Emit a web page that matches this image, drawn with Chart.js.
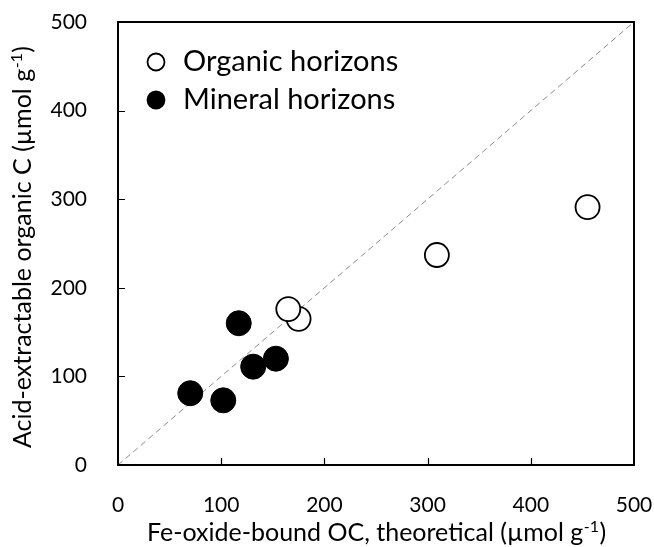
<!DOCTYPE html>
<html><head><meta charset="utf-8">
<script src="https://cdn.jsdelivr.net/npm/chart.js@4"></script>
<style>html,body{margin:0;padding:0;background:#fff}#wrap{width:654px;height:547px}</style>
</head><body><div id="wrap"><canvas id="c" width="654" height="547"></canvas></div>
<script>
// ---- data ----
const seriesNames = ["Organic horizons", "Mineral horizons"];
const organicX = [455, 309, 175, 165];
const organicY = [291, 237, 165, 176];
const mineralX = [70, 102, 117, 131, 153];
const mineralY = [81, 73, 160, 111, 120];
const oneToOneLine = [0, 500];
const axisMin = 0, axisMax = 500, tickStep = 100;
const xTitleParts = ["Fe-oxide-bound OC, theoretical (µmol g", "-1", ")"];
const yTitleParts = ["Acid-extractable organic C (µmol g", "-1", ")"];

const FONT = "Lato";
const TICK_SIZE = 21, TITLE_SIZE = 25, LEGEND_SIZE = 29;

function pts(xs, ys) { return xs.map((x, i) => ({ x: x, y: ys[i] })); }

function drawSupTitle(ctx, parts, size) {
  const main = size + "px " + FONT, sup = Math.round(size * 0.62) + "px " + FONT;
  ctx.font = main; const w0 = ctx.measureText(parts[0]).width;
  ctx.font = sup; const w1 = ctx.measureText(parts[1]).width;
  ctx.font = main; const w2 = ctx.measureText(parts[2]).width;
  const total = w0 + w1 + w2;
  let x = -total / 2;
  ctx.textAlign = "left"; ctx.textBaseline = "alphabetic"; ctx.fillStyle = "#000";
  ctx.font = main; ctx.fillText(parts[0], x, 0); x += w0;
  ctx.font = sup; ctx.fillText(parts[1], x + 0.5, -size * 0.38); x += w1 + 1;
  ctx.font = main; ctx.fillText(parts[2], x, 0);
}

function noPad(s) { s.paddingTop = 0; s.paddingBottom = 0; s.paddingLeft = 0; s.paddingRight = 0; }

const framePlugin = {
  id: "frame",
  afterDatasetsDraw(chart) {
    const ctx = chart.ctx, a = chart.chartArea;
    const xs = chart.scales.x, ys = chart.scales.y;
    ctx.save();
    ctx.strokeStyle = "#000"; ctx.lineWidth = 2;
    ctx.strokeRect(a.left, a.top, a.right - a.left, a.bottom - a.top);
    ctx.lineWidth = 1.2;
    ctx.beginPath();
    for (let v = axisMin + tickStep; v < axisMax; v += tickStep) {
      const px = Math.round(xs.getPixelForValue(v)) + 0.5;
      ctx.moveTo(px, a.bottom); ctx.lineTo(px, a.bottom - 7);
      const py = Math.round(ys.getPixelForValue(v)) + 0.5;
      ctx.moveTo(a.left, py); ctx.lineTo(a.left + 7, py);
    }
    ctx.stroke();
    // legend inside plot
    const ds = chart.data.datasets;
    [0, 1].forEach((di, r) => {
      const d = ds[di];
      const cy = a.top + 40 + r * 38;
      ctx.beginPath();
      ctx.arc(a.left + 38, cy, 8.5, 0, Math.PI * 2);
      ctx.fillStyle = d.backgroundColor; ctx.fill();
      ctx.lineWidth = 1.8; ctx.strokeStyle = d.borderColor; ctx.stroke();
      ctx.fillStyle = "#000"; ctx.font = LEGEND_SIZE + "px " + FONT;
      ctx.textAlign = "left"; ctx.textBaseline = "middle";
      ctx.fillText(d.label, a.left + 65, cy);
    });
    ctx.restore();
  },
  afterDraw(chart) {
    const ctx = chart.ctx, a = chart.chartArea;
    ctx.save();
    ctx.translate((a.left + a.right) / 2, 541);
    drawSupTitle(ctx, xTitleParts, TITLE_SIZE);
    ctx.restore();
    ctx.save();
    ctx.translate(31, (a.top + a.bottom) / 2 + 4);
    ctx.rotate(-Math.PI / 2);
    drawSupTitle(ctx, yTitleParts, TITLE_SIZE);
    ctx.restore();
  }
};

new Chart(document.getElementById("c"), {
  type: "scatter",
  data: {
    datasets: [
      { label: seriesNames[0], data: pts(organicX, organicY), backgroundColor: "#fff",
        borderColor: "#000", borderWidth: 1.8, pointRadius: 12, pointHoverRadius: 12 },
      { label: seriesNames[1], data: pts(mineralX, mineralY), backgroundColor: "#000",
        borderColor: "#000", borderWidth: 1, pointRadius: 12.5, pointHoverRadius: 12.5 },
      { type: "line", label: "1:1", data: pts(oneToOneLine, oneToOneLine), borderColor: "#8c8c8c",
        borderWidth: 1, borderDash: [6, 4], pointRadius: 0, fill: false }
    ]
  },
  options: {
    responsive: false, animation: false, devicePixelRatio: 1,
    layout: { padding: { top: 22, right: 20, left: 0, bottom: 0 } },
    plugins: { legend: { display: false }, tooltip: { enabled: false } },
    scales: {
      x: {
        type: "linear", min: axisMin, max: axisMax,
        grid: { display: false }, border: { display: false },
        ticks: { stepSize: tickStep, color: "#000", padding: 20, maxRotation: 0,
                 font: { family: FONT, size: TICK_SIZE } },
        afterFit(s) { s.height = 82; noPad(s); }
      },
      y: {
        type: "linear", min: axisMin, max: axisMax,
        grid: { display: false }, border: { display: false },
        ticks: { stepSize: tickStep, color: "#000", padding: 23,
                 font: { family: FONT, size: TICK_SIZE } },
        afterFit(s) { s.width = 118; noPad(s); }
      }
    }
  },
  plugins: [framePlugin]
});
</script></body></html>
